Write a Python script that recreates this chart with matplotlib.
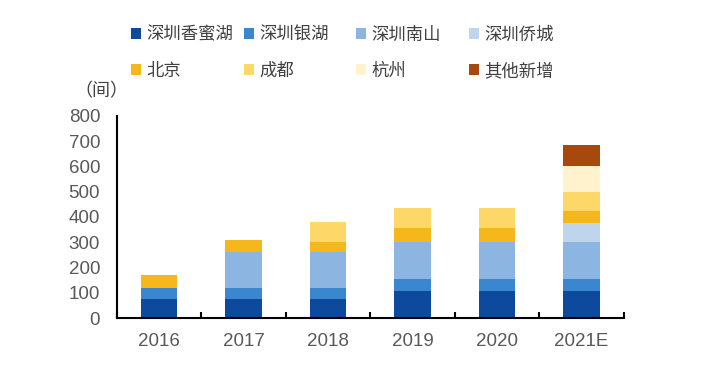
import matplotlib.pyplot as plt
import numpy as np

plt.rcParams['font.family'] = ['Noto Sans CJK SC', 'DejaVu Sans']

# data (rooms, stacked)
years = ['2016', '2017', '2018', '2019', '2020', '2021E']
names = ['深圳香蜜湖', '深圳银湖', '深圳南山', '深圳侨城', '北京', '成都', '杭州', '其他新增']
xiangmihu = [75, 75, 75, 107, 107, 107]
yinhu = [45, 45, 45, 48, 48, 48]
nanshan = [0, 140, 140, 145, 145, 145]
qiaocheng = [0, 0, 0, 0, 0, 75]
beijing = [50, 50, 40, 55, 55, 50]
chengdu = [0, 0, 80, 80, 80, 75]
hangzhou = [0, 0, 0, 0, 0, 100]
others = [0, 0, 0, 0, 0, 85]
colors = ['#0D4A9E', '#3A87D0', '#8DB5E2', '#BFD5EE',
          '#F6B71C', '#FDD868', '#FFF2CC', '#A5490F']

series = [xiangmihu, yinhu, nanshan, qiaocheng, beijing, chengdu, hangzhou, others]

fig = plt.figure(figsize=(7.08, 3.67), dpi=100)
ax = fig.add_axes([0.165, 0.1335, 0.716, 0.551])

x = np.arange(len(years))
bottom = np.zeros(len(years))
handles = []
for vals, name, c in zip(series, names, colors):
    b = ax.bar(x, vals, 0.43, bottom=bottom, color=c, label=name)
    handles.append(b)
    bottom += np.array(vals)

ax.set_xlim(-0.5, 5.5)
ax.set_ylim(0, 800)
ax.set_yticks(range(0, 801, 100))
ax.set_xticks(x)
ax.set_xticklabels(years, fontfamily='Liberation Sans', fontsize=13.5, color='#595959')
for t in ax.get_yticklabels():
    t.set_fontfamily('Liberation Sans')
    t.set_fontsize(13.5)
    t.set_color('#595959')
ax.set_xticks(np.arange(-0.5, 6, 1), minor=True)
ax.tick_params(axis='x', which='major', length=0, pad=11)
ax.tick_params(axis='x', which='minor', direction='in', length=4, width=1.5)
ax.tick_params(axis='y', length=0, pad=12)
for s in ['top', 'right']:
    ax.spines[s].set_visible(False)
for s in ['left', 'bottom']:
    ax.spines[s].set_linewidth(1.5)

fig.text(0.143, 0.75, '（间）', ha='center', va='center', fontsize=13, color='#404040')

# one legend per column so the columns sit at even spacing
col_x = [131, 244, 356, 469]
for j, cx in enumerate(col_x):
    fig.legend([handles[j], handles[j + 4]], [names[j], names[j + 4]],
               loc='upper left', bbox_to_anchor=(cx / 708, 0.93),
               frameon=False, fontsize=12.5, borderaxespad=0, borderpad=0,
               handlelength=0.6, handleheight=0.6, handletextpad=0.3,
               labelspacing=1.05, labelcolor='#404040')

plt.savefig('out.png', dpi=100)
